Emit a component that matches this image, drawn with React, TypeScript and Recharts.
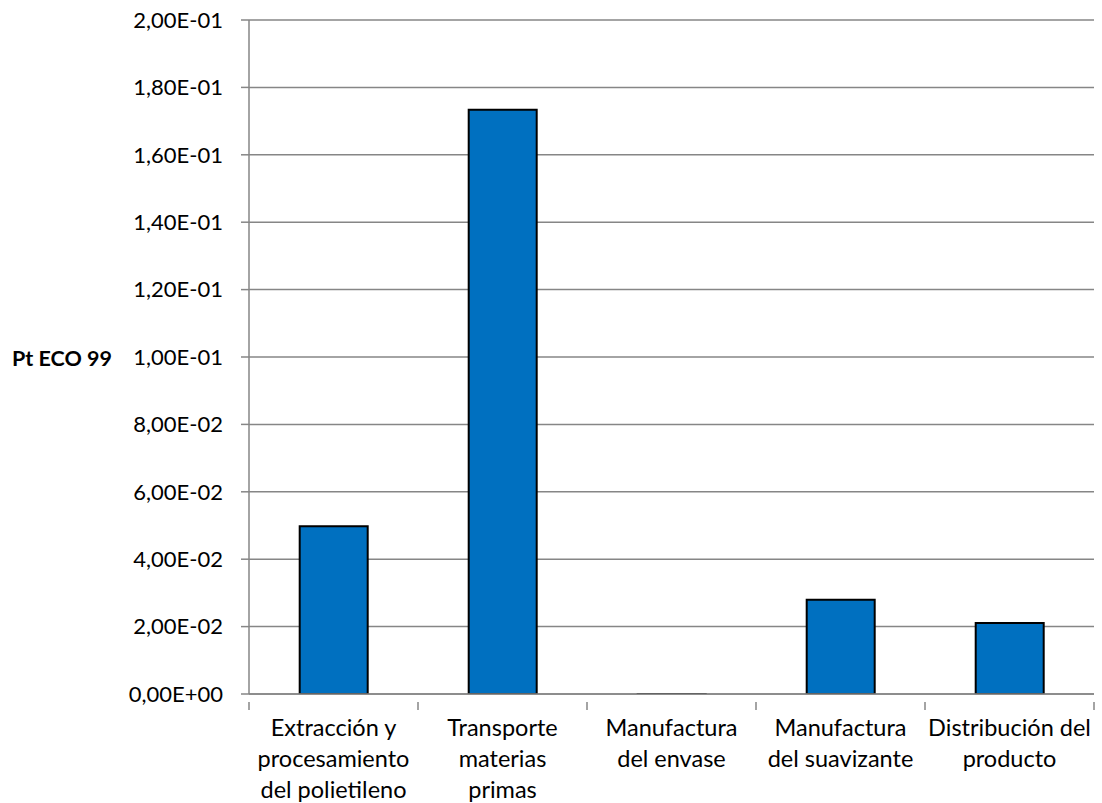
import React from 'react';
import { BarChart, Bar, XAxis, YAxis, CartesianGrid, Label } from 'recharts';

const categories: string[][] = [
  ['Extracción y', 'procesamiento', 'del polietileno'],
  ['Transporte', 'materias', 'primas'],
  ['Manufactura', 'del envase'],
  ['Manufactura', 'del suavizante'],
  ['Distribución del', 'producto'],
];
const values: number[] = [0.0498, 0.1734, -0.0001, 0.028, 0.0211];
const yTicks: number[] = [0, 0.02, 0.04, 0.06, 0.08, 0.1, 0.12, 0.14, 0.16, 0.18, 0.2];
const yLabel = 'Pt ECO 99';

const data = categories.map((c, i) => ({ name: c.join(' '), lines: c, value: values[i] }));

const W = 1102;
const H = 803;
const M = { top: 20, right: 8, left: 0, bottom: 0 };
const Y_W = 249;
const X_H = 109;
const FONT = 'Lato, "Open Sans", sans-serif';
const band = (W - M.left - M.right - Y_W) / categories.length;

const fmt = (v: number) => {
  if (v === 0) return '0,00E+00';
  const e = Math.floor(Math.log10(Math.abs(v)) + 1e-9);
  const m = v / Math.pow(10, e);
  const es = (e < 0 ? '-' : '+') + String(Math.abs(e)).padStart(2, '0');
  return m.toFixed(2).replace('.', ',') + 'E' + es;
};

const XTick = (props: any) => {
  const { x, y, payload, index } = props;
  const lines: string[] = data[payload.index ?? index]?.lines ?? [String(payload.value)];
  const left = x - band / 2;
  return (
    <g>
      <line x1={left} x2={left} y1={y} y2={y + 8} stroke="#868686" strokeWidth={1.5} />
      {index === categories.length - 1 && (
        <line x1={left + band} x2={left + band} y1={y} y2={y + 8} stroke="#868686" strokeWidth={1.5} />
      )}
      <text x={x} y={y + 34} textAnchor="middle" fontFamily={FONT} fontSize={23.5} fill="#000">
        {lines.map((l, i) => (
          <tspan key={i} x={x} dy={i === 0 ? 0 : 31}>{l}</tspan>
        ))}
      </text>
    </g>
  );
};

const YLabelContent = (props: any) => {
  const vb = props.viewBox || {};
  const cy = (vb.y ?? 0) + (vb.height ?? 0) / 2;
  return (
    <text x={12} y={cy + 1} dy="0.35em" textAnchor="start" fontFamily={FONT} fontSize={21.5} fontWeight="bold" fill="#000">
      {yLabel}
    </text>
  );
};

export default function App() {
  return (
    <div style={{ position: 'absolute', left: 0, top: 0, background: '#fff' }}>
      <BarChart width={W} height={H} data={data} margin={M} barCategoryGap="30%">
        <CartesianGrid vertical={false} stroke="#868686" strokeWidth={1.5} />
        <XAxis
          dataKey="name"
          height={X_H}
          interval={0}
          tickLine={false}
          axisLine={{ stroke: '#868686', strokeWidth: 1.5 }}
          tick={<XTick />}
        />
        <YAxis
          width={Y_W}
          domain={[0, 0.2]}
          ticks={yTicks}
          interval={0}
          tickFormatter={fmt}
          tickSize={8}
          tickMargin={18}
          allowDataOverflow
          tickLine={{ stroke: '#868686', strokeWidth: 1.5 }}
          axisLine={{ stroke: '#868686', strokeWidth: 1.5 }}
          tick={{ fontFamily: FONT, fontSize: 22, fill: '#000' }}
        >
          <Label content={<YLabelContent />} />
        </YAxis>
        <Bar dataKey="value" fill="#0070C0" stroke="#000" strokeWidth={2} isAnimationActive={false} />
      </BarChart>
    </div>
  );
}
